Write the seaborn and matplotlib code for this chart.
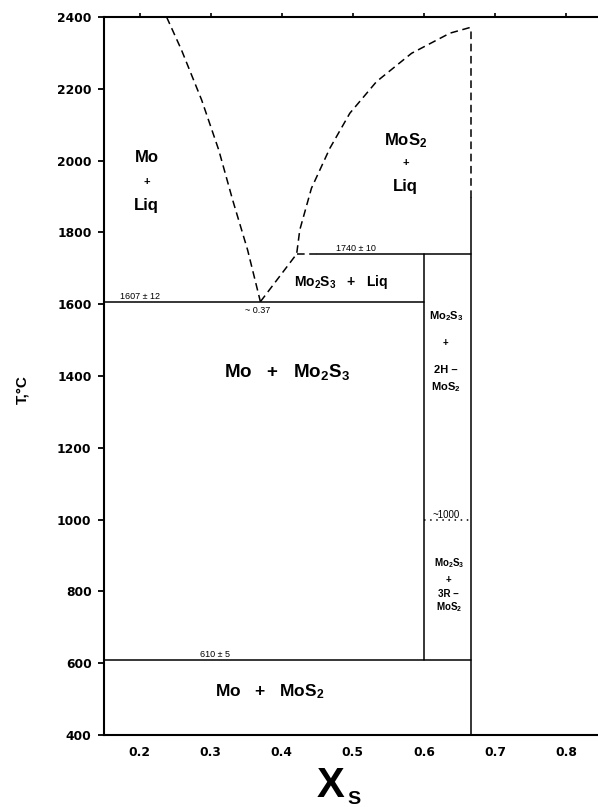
import matplotlib
matplotlib.use("Agg")
import matplotlib.pyplot as plt
import numpy as np
import pandas as pd
import seaborn as sns

# ---- data ----
mo_liq_x = [0.238, 0.259, 0.2873, 0.3113, 0.331, 0.352, 0.370]
mo_liq_t = [2400, 2308, 2169, 2030, 1890, 1751, 1607]
mos2_liq_x = [0.370, 0.421, 0.4254, 0.4418, 0.4676, 0.4958, 0.5333, 0.5827, 0.6366, 0.667]
mos2_liq_t = [1607, 1740, 1807, 1923, 2034, 2132, 2220, 2299, 2355, 2372]

x_min = 0.15
x_max = 0.845
x_eut = 0.37
x_mo2s3 = 0.60
x_mos2 = 0.667
x_per = 0.421
x_per_solid = 0.449
t_eut = 1607
t_per = 1740
t_eutd = 610
t_trans = 1000
t_mos2_dash = 1895
t_bottom = 400
t_top = 2400
t_top_mos2 = 2372

y_ticks = [400, 600, 800, 1000, 1200, 1400, 1600, 1800, 2000, 2200, 2400]
x_ticks = [0.2, 0.3, 0.4, 0.5, 0.6, 0.7, 0.8]
x_tick_labels = ["0.2", "0.3", "0.4", "0.5", "0.6", "0.7", "0.8"]

# ---- build segments ----
rows = []
def seg(name, kind, xs, ts):
    for x, t in zip(xs, ts):
        rows.append({"seg": name, "kind": kind, "x": x, "T": t})

seg("mo_liq", "dashed", mo_liq_x, mo_liq_t)
seg("mos2_liq", "dashed", mos2_liq_x, mos2_liq_t)
seg("eut", "solid", [x_min, x_mo2s3], [t_eut, t_eut])
seg("per_dash", "dashed", [x_per, x_per_solid], [t_per, t_per])
seg("per_solid", "solid", [x_per_solid, x_mos2], [t_per, t_per])
seg("eutd", "solid", [x_min, x_mos2], [t_eutd, t_eutd])
seg("mo2s3", "solid", [x_mo2s3, x_mo2s3], [t_eutd, t_per])
seg("mos2_solid", "solid", [x_mos2, x_mos2], [t_bottom, t_mos2_dash])
seg("mos2_dash", "dashed", [x_mos2, x_mos2], [t_mos2_dash, t_top_mos2])
seg("trans", "dotted", [x_mo2s3, x_mos2], [t_trans, t_trans])
df = pd.DataFrame(rows)

sns.set_theme(style="white")
plt.rcParams["font.family"] = ["Liberation Sans", "DejaVu Sans"]
plt.rcParams["font.weight"] = "bold"
plt.rcParams["text.color"] = "black"
plt.rcParams["xtick.color"] = "black"
plt.rcParams["ytick.color"] = "black"
plt.rcParams["mathtext.fontset"] = "custom"
plt.rcParams["mathtext.rm"] = "Liberation Sans:bold"
plt.rcParams["mathtext.it"] = "Liberation Sans:bold"
plt.rcParams["mathtext.bf"] = "Liberation Sans:bold"
plt.rcParams["mathtext.default"] = "rm"

fig = plt.figure(figsize=(5.98, 8.07), dpi=100)
ax = fig.add_axes([0.174, 0.0892, 0.826, 0.8897])

sns.lineplot(data=df, x="x", y="T", units="seg", style="kind", estimator=None,
             sort=False, color="black", linewidth=1.1, legend=False,
             dashes={"solid": "", "dashed": (5, 3), "dotted": (1, 3)}, ax=ax)

ax.set_xlim(x_min, x_max)
ax.set_ylim(t_bottom, t_top)
ax.set_xticks(x_ticks)
ax.set_yticks(y_ticks)
tick_font = dict(fontsize=8.8, fontweight="bold", family="DejaVu Sans")
ax.set_xticklabels(x_tick_labels, **tick_font)
ax.set_yticklabels([str(v) for v in y_ticks], **tick_font)
ax.set_xlabel("")
ax.set_ylabel("")
for s in ["left", "bottom", "top"]:
    ax.spines[s].set_linewidth(1.5)
    ax.spines[s].set_color("black")
ax.spines["right"].set_visible(False)
ax.tick_params(axis="y", direction="out", length=4, width=1.3, pad=5, left=True)
ax.tick_params(axis="x", which="both", bottom=False, top=True, direction="out",
               length=3, width=1.2, pad=5, labeltop=False)

# ---- labels ----
big = dict(fontsize=12, fontweight="bold", ha="center", va="center")
plus = dict(fontsize=8, fontweight="bold", ha="center", va="center")
ax.text(0.210, 2010, "Mo", **big)
ax.text(0.210, 1940, "+", **plus)
ax.text(0.210, 1876, "Liq", **big)
ax.text(0.574, 2057, "MoS$_2$", **big)
ax.text(0.574, 1994, "+", **plus)
ax.text(0.574, 1929, "Liq", **big)
ax.text(0.483, 1662, "Mo$_2$S$_3$   +   Liq", fontsize=10, fontweight="bold", ha="center", va="center")
ax.text(0.408, 1410, "Mo   +   Mo$_2$S$_3$", fontsize=13.5, fontweight="bold", ha="center", va="center")
ax.text(0.383, 522, "Mo   +   MoS$_2$", fontsize=12.5, fontweight="bold", ha="center", va="center")

small = dict(fontsize=6.5, fontweight="normal", ha="center", va="bottom")
ax.text(0.201, t_eut + 3, "1607 ± 12", **small)
ax.text(0.366, t_eut - 12, "~ 0.37", fontsize=6.5, fontweight="normal", ha="center", va="top")
ax.text(0.505, t_per + 3, "1740 ± 10", **small)
ax.text(0.306, t_eutd + 3, "610 ± 5", **small)
ax.text(0.632, t_trans + 12, "~1000", fontsize=7, fontweight="normal", ha="center", va="center")

mid = dict(fontsize=8, fontweight="bold", ha="center", va="center")
ax.text(0.631, 1568, "Mo$_2$S$_3$", **mid)
ax.text(0.631, 1492, "+", fontsize=7, fontweight="bold", ha="center", va="center")
ax.text(0.631, 1418, "2H –", **mid)
ax.text(0.631, 1370, "MoS$_2$", **mid)
sm = dict(fontsize=7, fontweight="bold", ha="center", va="center")
ax.text(0.635, 879, "Mo$_2$S$_3$", **sm)
ax.text(0.635, 832, "+", **sm)
ax.text(0.635, 793, "3R –", **sm)
ax.text(0.635, 757, "MoS$_2$", **sm)

fig.text(331 / 598, 1 - 786 / 807, "X", fontsize=30, fontweight="bold", ha="center", va="center")
fig.text(354 / 598, 1 - 799 / 807, "S", fontsize=14, fontweight="bold", ha="center", va="center")
fig.text(0.037, 0.517, "T,°C", fontsize=11, fontweight="bold", rotation=90, ha="center", va="center")

fig.savefig("out.png", dpi=100)
